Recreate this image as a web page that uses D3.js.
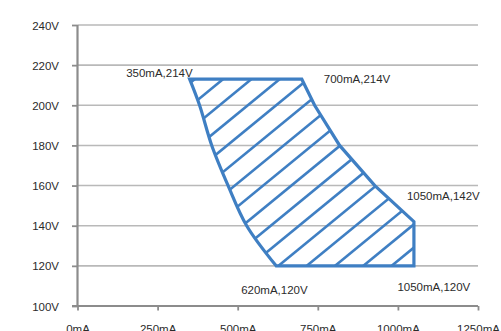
<!DOCTYPE html>
<html>
<head>
<meta charset="utf-8">
<script src="https://cdn.jsdelivr.net/npm/d3@7"></script>
<style>
  html, body { margin: 0; padding: 0; background: #fff; }
  svg { display: block; }
  text { font-family: "Liberation Sans", Arial, sans-serif; }
</style>
</head>
<body>
<svg id="chart" width="501" height="331"></svg>
<script>
// ---- data ----
const xTicks = [0, 250, 500, 750, 1000, 1250];
const yTicks = [100, 120, 140, 160, 180, 200, 220, 240];
// operating area outline (mA, V)
// right/bottom chain (straight segments), clockwise from top-left corner
const rightCurrent = [350, 700, 740, 818, 928, 1050, 1050, 620];
const rightVoltage = [213, 213, 200, 180, 160, 142, 120, 120];
// left chain (smooth), from bottom-left corner back up to top-left corner
const leftCurrent = [620, 528, 470, 419, 381, 350];
const leftVoltage = [120, 140, 160, 180, 200, 213];
// corner annotations
const labelText = ["350mA,214V", "700mA,214V", "1050mA,142V", "620mA,120V", "1050mA,120V"];
const labelCurrent = [350, 700, 1050, 620, 1050];
const labelVoltage = [214, 214, 142, 120, 120];

// ---- layout ----
const svg = d3.select("#chart");
const x = d3.scaleLinear().domain([0, 1250]).range([77.5, 478]);
const y = d3.scaleLinear().domain([100, 240]).range([306, 25]);
const blue = "#3f7fc3";
const axisGrey = "#8c8c8c";
const gridGrey = "#b9b9b9";
const textCol = "#2b2b2b";
const fs = "11.5px";

// gridlines
svg.append("g").selectAll("line").data(yTicks.filter(d => d > 100)).join("line")
  .attr("x1", x(0)).attr("x2", x(1250))
  .attr("y1", d => y(d)).attr("y2", d => y(d))
  .attr("stroke", gridGrey).attr("stroke-width", 1.6);

// y axis
const yAxis = svg.append("g").attr("transform", `translate(${x(0)},0)`)
  .call(d3.axisLeft(y).tickValues(yTicks).tickSizeInner(5.5).tickSizeOuter(0).tickPadding(13)
    .tickFormat(d => d + "V"));
yAxis.select(".domain").remove();
yAxis.selectAll(".tick line").attr("stroke", axisGrey).attr("stroke-width", 1.8);
yAxis.selectAll(".tick text").attr("fill", textCol).style("font-size", fs)
  .style("font-family", "'Liberation Sans', Arial, sans-serif").attr("dy", "0.36em");
svg.append("line").attr("x1", x(0)).attr("x2", x(0)).attr("y1", y(240)).attr("y2", y(100) + 1)
  .attr("stroke", axisGrey).attr("stroke-width", 2.2);

// x axis
const xAxis = svg.append("g").attr("transform", `translate(0,${y(100)})`)
  .call(d3.axisBottom(x).tickValues(xTicks).tickSizeInner(4.5).tickSizeOuter(0).tickPadding(4)
    .tickFormat(d => d + "mA"));
xAxis.select(".domain").remove();
xAxis.selectAll(".tick line").attr("stroke", axisGrey).attr("stroke-width", 1.8);
xAxis.selectAll(".tick text").attr("fill", textCol).style("font-size", fs)
  .style("font-family", "'Liberation Sans', Arial, sans-serif")
  .attr("y", 26.5).attr("dy", 0);
svg.append("line").attr("x1", x(0) - 5.5).attr("x2", x(1250)).attr("y1", y(100)).attr("y2", y(100))
  .attr("stroke", axisGrey).attr("stroke-width", 2.2);

// area outline: straight right/bottom chain + smooth left chain
const rightPts = rightCurrent.map((c, i) => [x(c), y(rightVoltage[i])]);
const leftPts = leftCurrent.map((c, i) => [x(c), y(leftVoltage[i])]);
const rightPath = d3.line()(rightPts);
const leftPath = d3.line().curve(d3.curveCatmullRom.alpha(0.5))(leftPts);
const poly = rightPath + "L" + leftPath.slice(1) + "Z";

svg.append("clipPath").attr("id", "areaClip").append("path").attr("d", poly);

// hatch lines (rising to the right), clipped to the area
const slope = 0.82, step = 28.3, baseX = 306.7, baseY = y(120);
const hatch = d3.range(-14, 6).map(k => {
  const xb = baseX + k * step;
  const yTop = 60, yBot = 290;
  return [[xb - (yBot - baseY) / slope, yBot], [xb + (baseY - yTop) / slope, yTop]];
});
svg.append("g").attr("clip-path", "url(#areaClip)").selectAll("line").data(hatch).join("line")
  .attr("x1", d => d[0][0]).attr("y1", d => d[0][1])
  .attr("x2", d => d[1][0]).attr("y2", d => d[1][1])
  .attr("stroke", blue).attr("stroke-width", 2.6);

svg.append("path").attr("d", poly).attr("fill", "none")
  .attr("stroke", blue).attr("stroke-width", 3.2).attr("stroke-linejoin", "miter");

// annotations
const offs = [[3, 0, "end"], [22, 6, "start"], [-7, -22, "start"], [-35, 28, "start"], [-16.5, 24.7, "start"]];
svg.append("g").selectAll("text").data(labelText).join("text")
  .attr("x", (d, i) => x(labelCurrent[i]) + offs[i][0])
  .attr("y", (d, i) => y(labelVoltage[i]) + offs[i][1])
  .attr("text-anchor", (d, i) => offs[i][2])
  .attr("fill", textCol).style("font-size", fs)
  .text(d => d);
</script>
</body>
</html>
